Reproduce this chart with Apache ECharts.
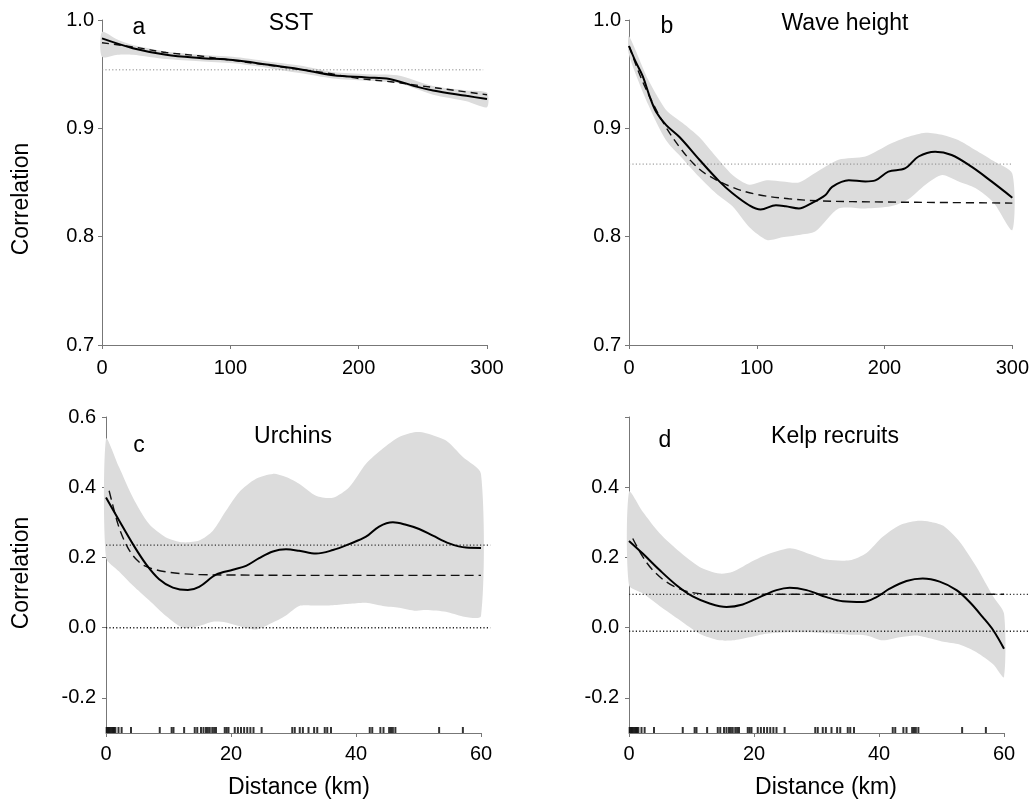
<!DOCTYPE html>
<html>
<head>
<meta charset="utf-8">
<script src="https://cdn.jsdelivr.net/npm/echarts@6/dist/echarts.min.js"></script>
<style>
html,body{margin:0;padding:0;background:#fff;}
#chart{width:1032px;height:803px;}
</style>
</head>
<body>
<div id="chart"></div>
<script>
// ---------- Panel a: SST ----------
const aLineX = [0, 24, 50, 76, 102, 128, 154, 180, 206, 224, 245, 258, 284, 300];
const aLineY = [0.983, 0.974, 0.968, 0.965, 0.963, 0.959, 0.9546, 0.949, 0.947, 0.9456, 0.9385, 0.935, 0.930, 0.927];
const aFitX = [0, 25, 50, 75, 100, 125, 150, 175, 200, 225, 250, 275, 300];
const aFitY = [0.979, 0.975, 0.970, 0.967, 0.963, 0.959, 0.955, 0.951, 0.946, 0.943, 0.939, 0.935, 0.931];
const aBandX = [0, 12, 24, 50, 76, 102, 128, 154, 180, 206, 230, 258, 284, 300];
const aBandHi = [0.989, 0.982, 0.977, 0.971, 0.968, 0.966, 0.962, 0.958, 0.952, 0.950, 0.949, 0.939, 0.935, 0.933];
const aBandLo = [0.966, 0.968, 0.968, 0.964, 0.962, 0.960, 0.956, 0.951, 0.946, 0.944, 0.942, 0.931, 0.925, 0.9195];
const aRef = 0.954;

// ---------- Panel b: Wave height ----------
const bLineX = [0, 5, 10.8, 16, 21.3, 29.1, 39.5, 55.1, 70.7, 81, 94, 103, 115, 122.7, 133, 143, 153.8, 159, 172, 185, 192.8, 203, 216, 226.6, 239.6, 252.5, 268, 283.7, 300];
const bLineY = [0.976, 0.962, 0.948, 0.930, 0.915, 0.903, 0.892, 0.871, 0.851, 0.840, 0.829, 0.825, 0.829, 0.828, 0.826, 0.831, 0.8385, 0.846, 0.852, 0.851, 0.852, 0.860, 0.863, 0.874, 0.8785, 0.8754, 0.8646, 0.851, 0.836];
const bFitX = [0, 10, 20, 30, 40, 50, 60, 80, 100, 125, 150, 200, 250, 300];
const bFitY = [0.976, 0.945, 0.920, 0.899, 0.882, 0.868, 0.858, 0.846, 0.839, 0.835, 0.833, 0.832, 0.8315, 0.831];
const bBandX = [0, 15, 29, 42, 55, 68, 81, 94, 108, 120, 133, 146, 164, 185, 205, 218, 232, 245, 258, 271, 285, 300];
const bBandHi = [0.985, 0.945, 0.917, 0.905, 0.892, 0.874, 0.857, 0.848, 0.852, 0.851, 0.850, 0.859, 0.871, 0.874, 0.886, 0.892, 0.896, 0.894, 0.889, 0.880, 0.870, 0.858];
const bBandLo = [0.968, 0.922, 0.889, 0.872, 0.855, 0.840, 0.828, 0.809, 0.797, 0.7995, 0.8016, 0.805, 0.826, 0.826, 0.828, 0.834, 0.848, 0.857, 0.851, 0.845, 0.832, 0.806];
const bRef = 0.867;

// ---------- Panel c: Urchins ----------
const cLineX = [0, 2.1, 4.3, 6.4, 8.5, 10.7, 13.1, 14.9, 17.6, 20.3, 22.4, 24.5, 26.7, 28.8, 30.9, 33.6, 36.3, 38.9, 41.6, 43.7, 45.9, 48, 50.1, 52.3, 54.9, 57.6, 60];
const cLineY = [0.371, 0.305, 0.238, 0.181, 0.138, 0.114, 0.107, 0.116, 0.151, 0.165, 0.176, 0.198, 0.217, 0.223, 0.219, 0.211, 0.221, 0.238, 0.259, 0.288, 0.300, 0.293, 0.281, 0.262, 0.240, 0.228, 0.227];
const cFitX = [0.5, 1, 2, 3, 4, 5, 6, 8, 10, 12, 15, 20, 30, 45, 60];
const cFitY = [0.39, 0.355, 0.29, 0.245, 0.213, 0.192, 0.178, 0.165, 0.158, 0.154, 0.151, 0.150, 0.149, 0.149, 0.149];
const cBandX = [0, 2.1, 4.3, 6.9, 9.6, 12.3, 14.9, 17.1, 19.2, 21.3, 24, 26.7, 28.8, 30.9, 33.6, 36.3, 38.9, 41.6, 44.3, 46.9, 49.6, 51.2, 54.4, 57.1, 60];
const cBandHi = [0.538, 0.457, 0.371, 0.295, 0.257, 0.243, 0.248, 0.276, 0.333, 0.386, 0.424, 0.438, 0.429, 0.410, 0.376, 0.370, 0.400, 0.467, 0.510, 0.543, 0.557, 0.554, 0.533, 0.486, 0.438];
const cBandLo = [0.200, 0.160, 0.120, 0.078, 0.033, 0.000, 0.005, 0.017, 0.015, 0.005, -0.005, 0.015, 0.035, 0.062, 0.063, 0.064, 0.068, 0.071, 0.062, 0.057, 0.048, 0.050, 0.045, 0.032, 0.033];
const cRef = 0.235;
const cZero = 0.0;

// ---------- Panel d: Kelp recruits ----------
const dLineX = [0, 2.2, 4.9, 7.6, 10.2, 12.9, 15.6, 18.2, 20.9, 23.6, 25.7, 28.4, 31.6, 34.2, 37.4, 39.6, 41.7, 44.4, 47, 49.7, 52.4, 54.5, 56.6, 58.3, 60];
const dLineY = [0.247, 0.211, 0.164, 0.121, 0.089, 0.069, 0.059, 0.066, 0.087, 0.107, 0.114, 0.107, 0.087, 0.075, 0.073, 0.087, 0.111, 0.133, 0.140, 0.131, 0.107, 0.073, 0.030, -0.008, -0.06];
const dFitX = [0.6, 2.2, 3.8, 6, 8.6, 11.3, 14, 20, 30, 40, 50, 60];
const dFitY = [0.254, 0.202, 0.164, 0.130, 0.107, 0.097, 0.095, 0.095, 0.095, 0.095, 0.095, 0.095];
const dBandX = [0, 2.2, 4.9, 8.1, 11.3, 14.5, 16.6, 19.3, 21.9, 25.7, 28.4, 31.6, 35.3, 38, 40.6, 43.3, 46, 48.1, 50.3, 52.9, 55.6, 58.3, 60];
const dBandHi = [0.387, 0.33, 0.269, 0.216, 0.173, 0.154, 0.159, 0.185, 0.207, 0.226, 0.213, 0.194, 0.192, 0.213, 0.259, 0.292, 0.304, 0.302, 0.29, 0.245, 0.173, 0.088, 0.04];
const dBandLo = [0.121, 0.098, 0.062, 0.022, -0.017, -0.036, -0.036, -0.027, -0.017, -0.013, -0.013, -0.016, -0.02, -0.022, -0.036, -0.027, -0.022, -0.03, -0.04, -0.048, -0.07, -0.105, -0.141];
const dRef = 0.095;
const dZero = -0.01;

// sampling sites (rug), km
const rugKm = [0.1, 0.3, 0.5, 0.7, 0.9, 1.1, 1.3, 1.5, 2.0, 2.5, 4.0, 8.6, 10.5, 10.8, 12.5, 14.2, 14.6, 15.2, 15.6, 16.0, 16.3, 16.6, 17.0, 17.3, 17.6, 19.0, 19.3, 19.6, 20.6, 21.1, 21.6, 22.1, 22.6, 23.1, 23.6, 24.9, 29.8, 30.2, 31.0, 31.5, 32.4, 33.3, 33.8, 35.0, 35.4, 36.0, 42.2, 42.6, 43.9, 44.4, 45.3, 45.6, 45.9, 46.3, 53.3, 57.1];

// axis ticks
const ticksBotY = [-0.2, 0, 0.2, 0.4, 0.6];
const labelsDY = [-0.2, 0, 0.2, 0.4];

const titles = ['SST', 'Wave height', 'Urchins', 'Kelp recruits'];
const letters = ['a', 'b', 'c', 'd'];

const FONT = '"Liberation Sans", Arial, Helvetica, sans-serif';
const AX = '#777';

function zip(xs, ys) { return xs.map((x, i) => [x, ys[i]]); }

function band(i, xs, lo, hi) {
  return {
    type: 'custom', xAxisIndex: i, yAxisIndex: i, silent: true, z: 1,
    data: [[xs[0], lo[0]]],
    renderItem: function (params, api) {
      const pts = [];
      for (let k = 0; k < xs.length; k++) pts.push(api.coord([xs[k], hi[k]]));
      for (let k = xs.length - 1; k >= 0; k--) pts.push(api.coord([xs[k], lo[k]]));
      return { type: 'polygon', shape: { points: pts, smooth: 0.25 }, style: { fill: '#dcdcdc' } };
    }
  };
}
function solid(i, xs, ys) {
  return { type: 'line', xAxisIndex: i, yAxisIndex: i, data: zip(xs, ys), smooth: 0.35, symbol: 'none', silent: true, z: 5,
    lineStyle: { color: '#000', width: 2 } };
}
function dashed(i, xs, ys, dash) {
  return { type: 'line', xAxisIndex: i, yAxisIndex: i, data: zip(xs, ys), smooth: 0.35, symbol: 'none', silent: true, z: 4,
    lineStyle: { color: '#111', width: 1.4, type: dash } };
}
function hline(i, v, x0, x1, color, w) {
  return {
    type: 'custom', xAxisIndex: i, yAxisIndex: i, silent: true, z: 3, clip: false,
    data: [[x0, v]],
    renderItem: function (params, api) {
      const p0 = api.coord([x0, v]);
      const p1 = api.coord([x1, v]);
      return { type: 'line', shape: { x1: p0[0], y1: p0[1], x2: p1[0], y2: p1[1] },
        style: { stroke: color, lineWidth: w, lineDash: [1.2, 2.2], fill: null } };
    }
  };
}
function rug(i) {
  return { type: 'scatter', xAxisIndex: i, yAxisIndex: i, data: rugKm.map(x => [x, -0.3]), symbol: 'rect',
    symbolSize: [2, 6], symbolOffset: [0, -3], silent: true, z: 6, clip: false, itemStyle: { color: '#000' } };
}

const grids = [
  { left: 102, top: 20, width: 385, height: 325 },
  { left: 629, top: 20, width: 384, height: 325 },
  { left: 106, top: 417, width: 375, height: 316 },
  { left: 629, top: 417, width: 375, height: 316 }
];

function xAxis(i, max, interval, margin) {
  return { type: 'value', gridIndex: i, min: 0, max: max, interval: interval,
    axisLine: { show: true, onZero: false, lineStyle: { color: AX, width: 1 } },
    axisTick: { show: true, length: 4, lineStyle: { color: AX } },
    splitLine: { show: false },
    axisLabel: { color: '#000', fontSize: 20, fontFamily: FONT, margin: margin } };
}
function yAxisTop(i) {
  return { type: 'value', gridIndex: i, min: 0.7, max: 1.0, interval: 0.1,
    axisLine: { show: true, onZero: false, lineStyle: { color: AX, width: 1 } },
    axisTick: { show: true, length: 4, lineStyle: { color: AX } },
    splitLine: { show: false },
    axisLabel: { color: '#000', fontSize: 20, fontFamily: FONT, margin: 8, formatter: v => v.toFixed(1) } };
}
function yAxisBot(i, labels) {
  return { type: 'value', gridIndex: i, min: -0.3, max: 0.6,
    axisLine: { show: true, onZero: false, lineStyle: { color: AX, width: 1 } },
    axisTick: { show: true, length: 4, lineStyle: { color: AX }, customValues: ticksBotY },
    splitLine: { show: false },
    axisLabel: { color: '#000', fontSize: 20, fontFamily: FONT, margin: 10, customValues: labels,
      formatter: v => (Math.abs(v) < 1e-9 ? 0 : v).toFixed(1) } };
}

function txt(x, y, s, rot) {
  return { type: 'text', x: x, y: y, rotation: rot || 0, silent: true,
    style: { text: s, fill: '#000', font: '23px ' + FONT, align: 'center', verticalAlign: 'middle' } };
}

const option = {
  animation: false,
  backgroundColor: '#fff',
  grid: grids,
  xAxis: [xAxis(0, 300, 100, 13), xAxis(1, 300, 100, 13), xAxis(2, 60, 20, 11), xAxis(3, 60, 20, 11)],
  yAxis: [yAxisTop(0), yAxisTop(1), yAxisBot(2, ticksBotY), yAxisBot(3, labelsDY)],
  series: [
    band(0, aBandX, aBandLo, aBandHi),
    hline(0, aRef, 0, 297, '#888', 1),
    dashed(0, aFitX, aFitY, [7, 5]),
    solid(0, aLineX, aLineY),

    band(1, bBandX, bBandLo, bBandHi),
    hline(1, bRef, 0, 300, '#888', 1),
    dashed(1, bFitX, bFitY, [8, 5]),
    solid(1, bLineX, bLineY),

    band(2, cBandX, cBandLo, cBandHi),
    hline(2, cRef, 0, 61.5, '#333', 1.2),
    hline(2, cZero, 0, 61.5, '#222', 1.5),
    dashed(2, cFitX, cFitY, [9, 5]),
    solid(2, cLineX, cLineY),
    rug(2),

    band(3, dBandX, dBandLo, dBandHi),
    hline(3, dRef, 0, 64, '#333', 1.2),
    hline(3, dZero, 0, 64, '#222', 1.5),
    dashed(3, dFitX, dFitY, [9, 5]),
    solid(3, dLineX, dLineY),
    rug(3)
  ],
  graphic: [
    txt(139, 28, letters[0]), txt(291, 24, titles[0]),
    txt(667, 27, letters[1]), txt(845, 24, titles[1]),
    txt(139, 446, letters[2]), txt(293, 437, titles[2]),
    txt(665, 441, letters[3]), txt(835, 437, titles[3]),
    txt(22, 199, 'Correlation', Math.PI / 2),
    txt(22, 573, 'Correlation', Math.PI / 2),
    txt(299, 788, 'Distance (km)'),
    txt(826, 788, 'Distance (km)')
  ]
};

const chart = echarts.init(document.getElementById('chart'), null, { renderer: 'canvas' });
chart.setOption(option);
</script>
</body>
</html>
